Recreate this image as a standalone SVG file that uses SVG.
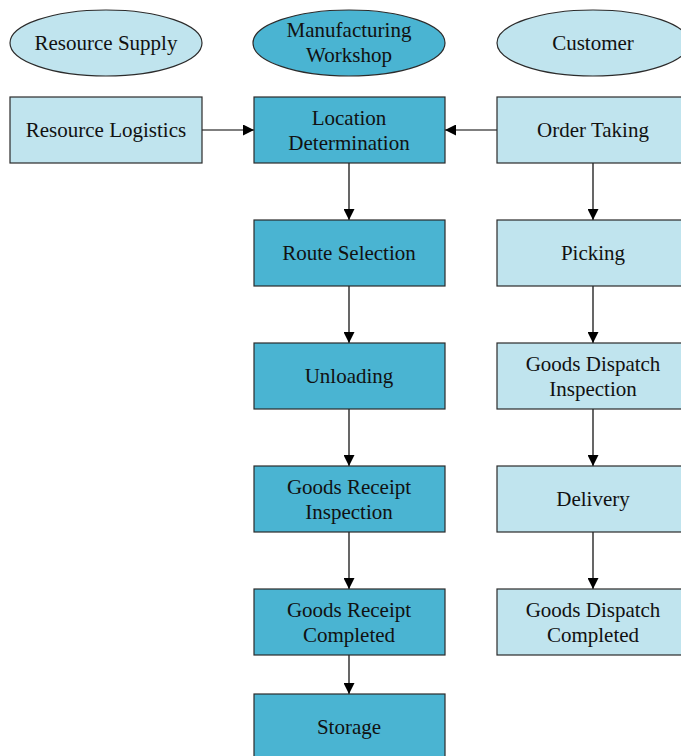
<svg xmlns="http://www.w3.org/2000/svg" width="681" height="756" viewBox="0 0 681 756">
<defs>
<style>
.dk{fill:#4AB4D2;stroke:#2b2b2b;stroke-width:1.2}
.lt{fill:#C0E4EE;stroke:#2b2b2b;stroke-width:1.2}
text{font-family:"Liberation Serif","Times New Roman",serif;font-size:21px;fill:#111;text-anchor:middle}
.c{stroke:#000;stroke-width:1.2;fill:none;marker-end:url(#ah)}
</style>
<marker id="ah" viewBox="0 0 10 10" refX="10" refY="5" markerWidth="11" markerHeight="11" markerUnits="userSpaceOnUse" orient="auto">
<path d="M0,0 L10,5 L0,10 z" fill="#000"/>
</marker>
</defs>
<rect width="681" height="756" fill="#fff"/>
<g id="connectors">
<line class="c" x1="202" y1="130" x2="254" y2="130"/>
<line class="c" x1="497" y1="130" x2="445" y2="130"/>
<line class="c" x1="349" y1="163" x2="349" y2="220"/>
<line class="c" x1="349" y1="286" x2="349" y2="343"/>
<line class="c" x1="349" y1="409" x2="349" y2="466"/>
<line class="c" x1="349" y1="532" x2="349" y2="589"/>
<line class="c" x1="349" y1="655" x2="349" y2="694"/>
<line class="c" x1="593" y1="163" x2="593" y2="220"/>
<line class="c" x1="593" y1="286" x2="593" y2="343"/>
<line class="c" x1="593" y1="409" x2="593" y2="466"/>
<line class="c" x1="593" y1="532" x2="593" y2="589"/>
</g>
<g id="resource-supply"><ellipse class="lt" cx="106" cy="43" rx="96" ry="33"/><text x="106" y="50">Resource Supply</text></g>
<g id="manufacturing-workshop"><ellipse class="dk" cx="349" cy="43" rx="96" ry="33"/><text x="349" y="37">Manufacturing</text><text x="349" y="62">Workshop</text></g>
<g id="customer"><ellipse class="lt" cx="593" cy="43" rx="96" ry="33"/><text x="593" y="50">Customer</text></g>
<g id="resource-logistics"><rect class="lt" x="10" y="97" width="192" height="66"/><text x="106" y="137">Resource Logistics</text></g>
<g id="location-determination"><rect class="dk" x="254" y="97" width="191" height="66"/><text x="349" y="125">Location</text><text x="349" y="150">Determination</text></g>
<g id="order-taking"><rect class="lt" x="497" y="97" width="192" height="66"/><text x="593" y="137">Order Taking</text></g>
<g id="route-selection"><rect class="dk" x="254" y="220" width="191" height="66"/><text x="349" y="260">Route Selection</text></g>
<g id="picking"><rect class="lt" x="497" y="220" width="192" height="66"/><text x="593" y="260">Picking</text></g>
<g id="unloading"><rect class="dk" x="254" y="343" width="191" height="66"/><text x="349" y="383">Unloading</text></g>
<g id="goods-dispatch-inspection"><rect class="lt" x="497" y="343" width="192" height="66"/><text x="593" y="371">Goods Dispatch</text><text x="593" y="396">Inspection</text></g>
<g id="goods-receipt-inspection"><rect class="dk" x="254" y="466" width="191" height="66"/><text x="349" y="494">Goods Receipt</text><text x="349" y="519">Inspection</text></g>
<g id="delivery"><rect class="lt" x="497" y="466" width="192" height="66"/><text x="593" y="506">Delivery</text></g>
<g id="goods-receipt-completed"><rect class="dk" x="254" y="589" width="191" height="66"/><text x="349" y="617">Goods Receipt</text><text x="349" y="642">Completed</text></g>
<g id="goods-dispatch-completed"><rect class="lt" x="497" y="589" width="192" height="66"/><text x="593" y="617">Goods Dispatch</text><text x="593" y="642">Completed</text></g>
<g id="storage"><rect class="dk" x="254" y="694" width="191" height="70"/><text x="349" y="734">Storage</text></g>
</svg>
